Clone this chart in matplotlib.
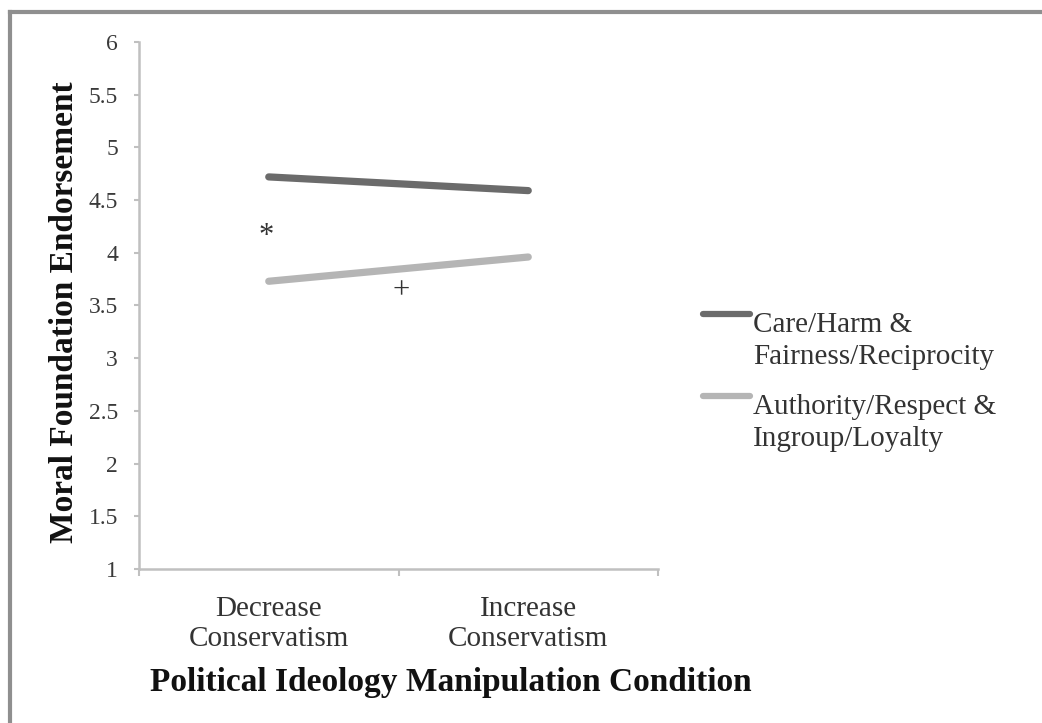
import matplotlib
matplotlib.use("Agg")
import matplotlib.pyplot as plt
from matplotlib.lines import Line2D
import numpy as np

# data
conditions = ["Decrease\nConservatism", "Increase\nConservatism"]
series_names = ["Care/Harm &\nFairness/Reciprocity", "Authority/Respect &\nIngroup/Loyalty"]
care_fair = [4.72, 4.59]
auth_ingroup = [3.73, 3.96]
series_colors = ["#6b6b6b", "#b5b5b5"]
y_ticks = [1, 1.5, 2, 2.5, 3, 3.5, 4, 4.5, 5, 5.5, 6]
y_tick_labels = ["1", "1.5", "2", "2.5", "3", "3.5", "4", "4.5", "5", "5.5", "6"]
marks = [("*", -0.01, 4.15), ("+", 0.51, 3.64)]

plt.rcParams["font.family"] = ["Liberation Serif", "DejaVu Serif"]

W, H = 1042, 723
fig = plt.figure(figsize=(W / 100, H / 100), dpi=100)
fig.patch.set_facecolor("white")

ax = fig.add_axes([139 / W, 1 - 569 / H, 519 / W, 527 / H])
x = np.arange(len(conditions))
for vals, col in zip([care_fair, auth_ingroup], series_colors):
    ax.plot(x, vals, color=col, lw=5.2, solid_capstyle="round")

for s, mx, my in marks:
    ax.text(mx, my, s, ha="center", va="center", fontsize=22, color="#333333")

ax.set_xlim(-0.5, 1.5)
ax.set_ylim(1, 6)
ax.set_yticks(y_ticks)
ax.set_yticklabels(y_tick_labels, fontsize=17, color="#3a3a3a")
ax.set_xticks([-0.5, 0.5, 1.5])
ax.set_xticklabels([])
ax.tick_params(axis="y", length=3.6, width=1.5, color="#c0c0c0", pad=11.5)
ax.tick_params(axis="x", length=5, width=1.5, color="#c0c0c0", direction="out")
for sp in ["top", "right"]:
    ax.spines[sp].set_visible(False)
for sp in ["left", "bottom"]:
    ax.spines[sp].set_color("#c0c0c0")
    ax.spines[sp].set_linewidth(1.8)

for xi, lab in zip(x, conditions):
    ax.text(xi, -0.051, lab, transform=ax.get_xaxis_transform(), ha="center", va="top",
            fontsize=21, color="#333333", linespacing=1.2)

fig.text(451 / W, 1 - 682 / H, "Political Ideology Manipulation Condition", ha="center", va="center",
         fontsize=24, fontweight="bold", color="#111111")
fig.text(65 / W, 1 - 312 / H, "Moral Foundation Endorsement", ha="center", va="center",
         rotation=90, fontsize=24, fontweight="bold", color="#111111")

# legend drawn by hand so the swatch sits on the first text line
for i, (name, col) in enumerate(zip(series_names, series_colors)):
    ly = 314 + i * 82
    fig.add_artist(Line2D([703 / W, 750 / W], [1 - ly / H, 1 - ly / H], color=col, lw=4.5,
                          solid_capstyle="round", transform=fig.transFigure))
    fig.text(753 / W, 1 - (ly - 2) / H, name, ha="left", va="top", fontsize=21,
             color="#333333", linespacing=1.32)

# grey frame along the top and left edges
fig.add_artist(Line2D([10 / W, 1], [1 - 12 / H, 1 - 12 / H], color="#8f8f8f", lw=3,
                      transform=fig.transFigure))
fig.add_artist(Line2D([10 / W, 10 / W], [0, 1 - 12 / H], color="#8f8f8f", lw=3,
                      transform=fig.transFigure))

fig.savefig("out.png", dpi=100, facecolor="white")
